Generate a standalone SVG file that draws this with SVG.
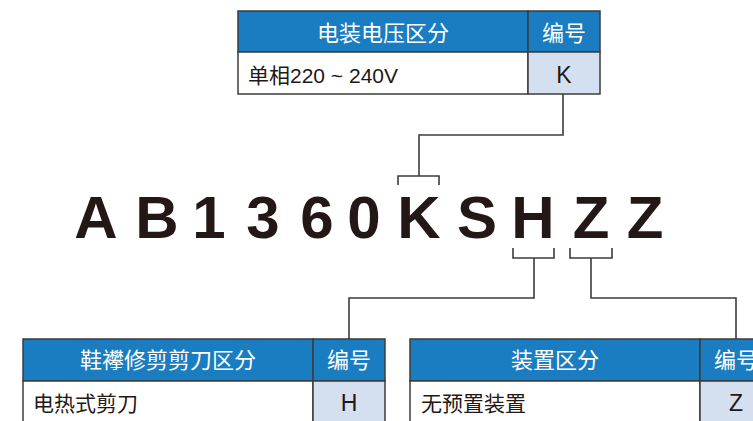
<svg xmlns="http://www.w3.org/2000/svg" width="753" height="421" viewBox="0 0 753 421">
<style>
.hd{fill:#1a7dc1;stroke:#3c3c3c;stroke-width:1.5}
.cell{fill:#ffffff;stroke:#3c3c3c;stroke-width:1.5}
.code{fill:#d4dff0;stroke:#3c3c3c;stroke-width:1.5}
.ht{font-family:"Noto Sans CJK SC","Noto Sans",sans-serif;font-size:22px;fill:#ffffff;text-anchor:middle}
.rt{font-family:"Liberation Sans","Noto Sans CJK SC",sans-serif;font-size:21px;fill:#231815}
.ct{font-family:"Liberation Sans",sans-serif;font-size:23px;fill:#231815;text-anchor:middle}
.big{font-family:"Liberation Sans",Arial,sans-serif;font-weight:bold;font-size:60px;fill:#231815;text-anchor:middle}
.ln{fill:none;stroke:#3c3c3c;stroke-width:1.6}
</style>
<rect width="753" height="421" fill="#ffffff"/>

<g id="table-voltage">
<rect class="hd" x="238" y="11" width="290" height="41"/>
<rect class="hd" x="528" y="11" width="72" height="41"/>
<rect class="cell" x="238" y="52" width="290" height="42"/>
<rect class="code" x="528" y="52" width="72" height="42"/>
<text class="ht" x="383" y="41">电装电压区分</text>
<text class="ht" x="564" y="41">编号</text>
<text class="rt" x="248" y="83">单相220 ~ 240V</text>
<text class="ct" x="564" y="83">K</text>
</g>

<g id="model-code">
<text class="big" y="238"><tspan x="96">A</tspan><tspan x="157">B</tspan><tspan x="209">1</tspan><tspan x="263">3</tspan><tspan x="317">6</tspan><tspan x="364">0</tspan><tspan x="419">K</tspan><tspan x="477">S</tspan><tspan x="533">H</tspan><tspan x="591">Z</tspan><tspan x="645">Z</tspan></text>
</g>

<g id="table-cutter">
<rect class="hd" x="23" y="339" width="290" height="42"/>
<rect class="hd" x="313" y="339" width="72" height="42"/>
<rect class="cell" x="23" y="381" width="290" height="44"/>
<rect class="code" x="313" y="381" width="72" height="44"/>
<text class="ht" x="168" y="368">鞋襻修剪剪刀区分</text>
<text class="ht" x="349" y="368">编号</text>
<text class="rt" x="33" y="411">电热式剪刀</text>
<text class="ct" x="349" y="411">H</text>
</g>

<g id="table-device">
<rect class="hd" x="410" y="339" width="290" height="42"/>
<rect class="hd" x="700" y="339" width="72" height="42"/>
<rect class="cell" x="410" y="381" width="290" height="44"/>
<rect class="code" x="700" y="381" width="72" height="44"/>
<text class="ht" x="555" y="368">装置区分</text>
<text class="ht" x="736" y="368">编号</text>
<text class="rt" x="421" y="411">无预置装置</text>
<text class="ct" x="736" y="411">Z</text>
</g>

<g id="connectors">
<path class="ln" d="M563 94 V135 H419 V176"/>
<path class="ln" d="M398 185 V176 H439 V185"/>
<path class="ln" d="M513 248 V258 H554 V248"/>
<path class="ln" d="M534 258 V298 H349 V339"/>
<path class="ln" d="M570 248 V258 H612 V248"/>
<path class="ln" d="M591 258 V298 H736 V339"/>
</g>
</svg>
